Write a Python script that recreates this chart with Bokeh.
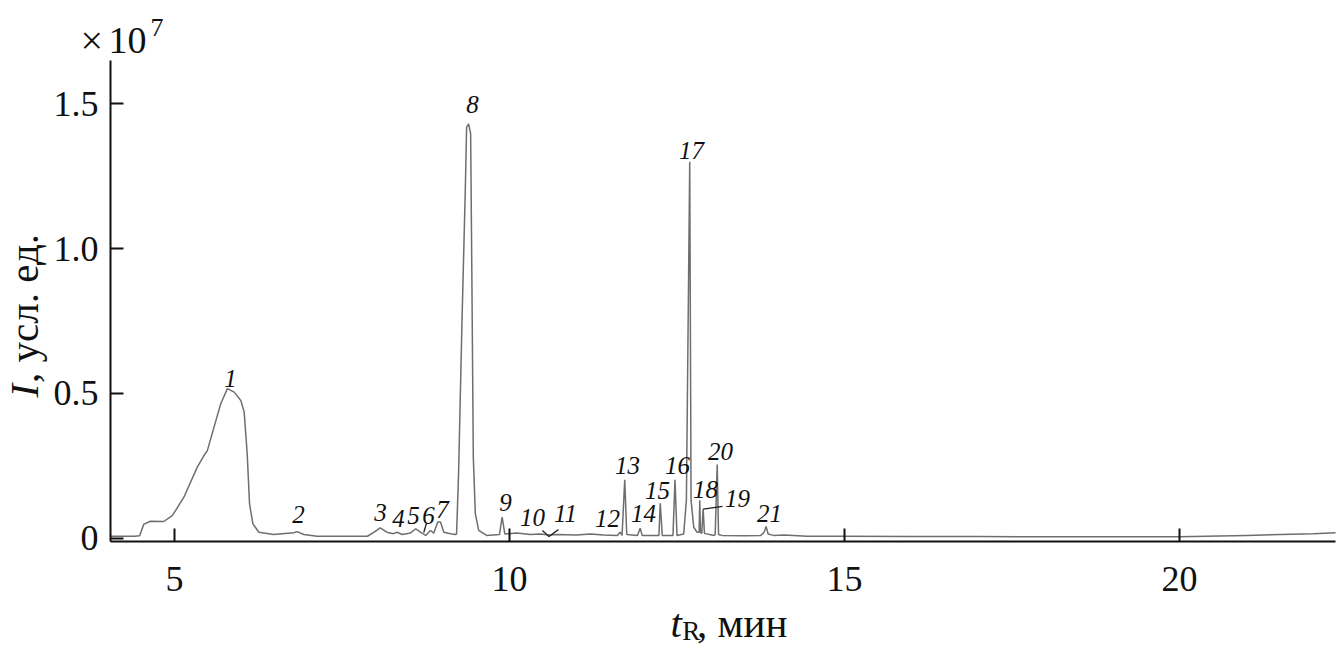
import math
from bokeh.plotting import figure
from bokeh.models import Range1d, FixedTicker, Label, ColumnDataSource
from bokeh.core.properties import value
from bokeh.embed import file_html
from bokeh.resources import INLINE

# Chromatogram trace (t in min, intensity in units of 1e7)
t_min = [4.05, 4.40, 4.48, 4.54, 4.64, 4.84, 4.97, 5.14, 5.34, 5.44, 5.49, 5.59, 5.69, 5.79,
         5.89, 5.99, 6.04, 6.085, 6.12, 6.17, 6.26, 6.48, 6.78, 6.83, 6.93, 7.13, 7.88, 7.98,
         8.07, 8.17, 8.27, 8.32, 8.40, 8.52, 8.60, 8.67, 8.75, 8.82, 8.87, 8.93, 8.97, 9.02,
         9.12, 9.19, 9.21, 9.24, 9.29, 9.34, 9.36, 9.39, 9.42, 9.44, 9.46, 9.49, 9.54, 9.66,
         9.85, 9.89, 9.93, 10.11, 10.31, 10.46, 10.59, 10.71, 11.0, 11.21, 11.40, 11.61, 11.65,
         11.68, 11.72, 11.75, 11.91, 11.95, 11.98, 12.23, 12.25, 12.28, 12.44, 12.47, 12.50,
         12.60, 12.64, 12.69, 12.71, 12.75, 12.80, 12.83, 12.84, 12.85, 12.87, 12.89, 12.91,
         13.05, 13.07, 13.10, 13.12, 13.17, 13.50, 13.75, 13.80, 13.83, 13.86, 13.94, 14.10,
         14.44, 15.0, 16.0, 17.0, 18.0, 19.0, 20.0, 21.0, 22.0, 22.33]
intensity = [0.006, 0.006, 0.008, 0.047, 0.058, 0.057, 0.078, 0.141, 0.245, 0.285, 0.302, 0.383,
             0.464, 0.516, 0.504, 0.475, 0.435, 0.291, 0.118, 0.049, 0.020, 0.012, 0.018, 0.022,
             0.012, 0.006, 0.006, 0.020, 0.035, 0.020, 0.015, 0.020, 0.012, 0.017, 0.032, 0.020,
             0.009, 0.026, 0.017, 0.055, 0.055, 0.020, 0.015, 0.012, 0.014, 0.222, 0.740, 1.200,
             1.420, 1.431, 1.397, 0.855, 0.279, 0.084, 0.026, 0.009, 0.012, 0.072, 0.014, 0.017,
             0.012, 0.014, 0.010, 0.012, 0.010, 0.014, 0.010, 0.009, 0.020, 0.009, 0.201, 0.012,
             0.009, 0.034, 0.009, 0.009, 0.120, 0.009, 0.009, 0.201, 0.009, 0.014, 0.130, 1.300,
             0.130, 0.037, 0.020, 0.020, 0.130, 0.020, 0.016, 0.100, 0.016, 0.009, 0.012, 0.254,
             0.012, 0.009, 0.008, 0.009, 0.020, 0.040, 0.014, 0.009, 0.010, 0.006, 0.006, 0.005,
             0.005, 0.004, 0.004, 0.004, 0.009, 0.015, 0.018]

# Peak numbers and label positions
peak_labels = ["1", "2", "3", "4", "5", "6", "7", "8", "9", "10", "11", "12", "13", "14",
               "15", "16", "17", "18", "19", "20", "21"]
label_t = [5.836, 6.851, 8.075, 8.343, 8.567, 8.791, 9.000, 9.448, 9.940, 10.343, 10.836,
           11.463, 11.761, 12.000, 12.209, 12.507, 12.716, 12.925, 13.403, 13.149, 13.881]
label_i = [0.551, 0.081, 0.088, 0.067, 0.078, 0.078, 0.099, 1.498, 0.124, 0.071, 0.085,
           0.067, 0.251, 0.085, 0.164, 0.251, 1.339, 0.166, 0.137, 0.299, 0.085]

# Leader lines
leader_t = [[8.72, 8.76], [10.49, 10.59, 10.73], [12.89, 13.18]]
leader_i = [[0.019, 0.050], [0.026, 0.005, 0.029], [0.100, 0.109]]

x_ticks = [5, 10, 15, 20]
y_ticks = [0, 0.5, 1.0, 1.5]
y_tick_labels = ["0", "0.5", "1.0", "1.5"]

# axis extents (data)
x_lo, x_hi = 4.045, 22.33
y_lo, y_hi = -0.0121, 1.650

W, H = 1337, 658
p = figure(width=W, height=H, output_backend="svg", toolbar_location=None,
           x_range=Range1d(2.4030, 22.3582), y_range=Range1d(-0.41638, 1.8573),
           min_border_left=0, min_border_right=0, min_border_top=0, min_border_bottom=0)
p.outline_line_color = None
p.xgrid.grid_line_color = None
p.ygrid.grid_line_color = None
p.background_fill_color = "white"
p.border_fill_color = "white"

for ax in (p.xaxis[0], p.yaxis[0]):
    ax.axis_line_width = 2
    ax.axis_line_color = "#111111"
    ax.major_tick_line_width = 2
    ax.major_tick_line_color = "#111111"
    ax.major_tick_in = 13
    ax.major_tick_out = 0
    ax.minor_tick_line_color = None
    ax.major_label_text_font = "Liberation Serif"
    ax.major_label_text_font_size = "36px"
    ax.major_label_text_color = "#111111"

p.xaxis.fixed_location = y_lo
p.xaxis.bounds = (x_lo, x_hi)
p.yaxis.fixed_location = x_lo
p.yaxis.bounds = (y_lo, y_hi)
p.xaxis.ticker = FixedTicker(ticks=x_ticks)
p.yaxis.ticker = FixedTicker(ticks=y_ticks)
p.yaxis.major_label_overrides = {v: s for v, s in zip(y_ticks, y_tick_labels)}
p.xaxis.major_label_standoff = 25
p.yaxis.major_label_standoff = 12

p.line(t_min, intensity, line_color="#6e6e6e", line_width=1.5)

for lt, li in zip(leader_t, leader_i):
    p.line(lt, li, line_color="#222222", line_width=1.3)

src = ColumnDataSource(dict(x=label_t, y=label_i, text=peak_labels))
p.text(x="x", y="y", text="text", source=src, text_font=value("Liberation Serif"),
       text_font_style="italic", text_font_size="25px", text_align="center",
       text_baseline="middle", text_color="#111111")


def lab(x, y, text, size, style="normal", angle=0.0, align="left", baseline="alphabetic"):
    p.add_layout(Label(x=x, y=y, text=text, text_font="Liberation Serif",
                       text_font_size=size, text_font_style=style, angle=angle,
                       text_align=align, text_baseline=baseline, text_color="#111111"))


# x-axis title
lab(12.403, -0.293, "t", "41px", style="italic")
lab(12.58, -0.320, "R", "27px")
lab(12.80, -0.293, ", мин", "41px")

# y-axis title (rotated)
lab(2.76, 0.4855, "I", "41px", style="italic", angle=math.pi / 2, baseline="middle")
lab(2.76, 0.536, ", усл. ед.", "41px", angle=math.pi / 2, baseline="middle")

# multiplier
lab(3.597, 1.719, "×", "40px")
lab(4.015, 1.719, "10", "38px")
lab(4.642, 1.763, "7", "26px")

open("out.html", "w").write(file_html(p, INLINE))
